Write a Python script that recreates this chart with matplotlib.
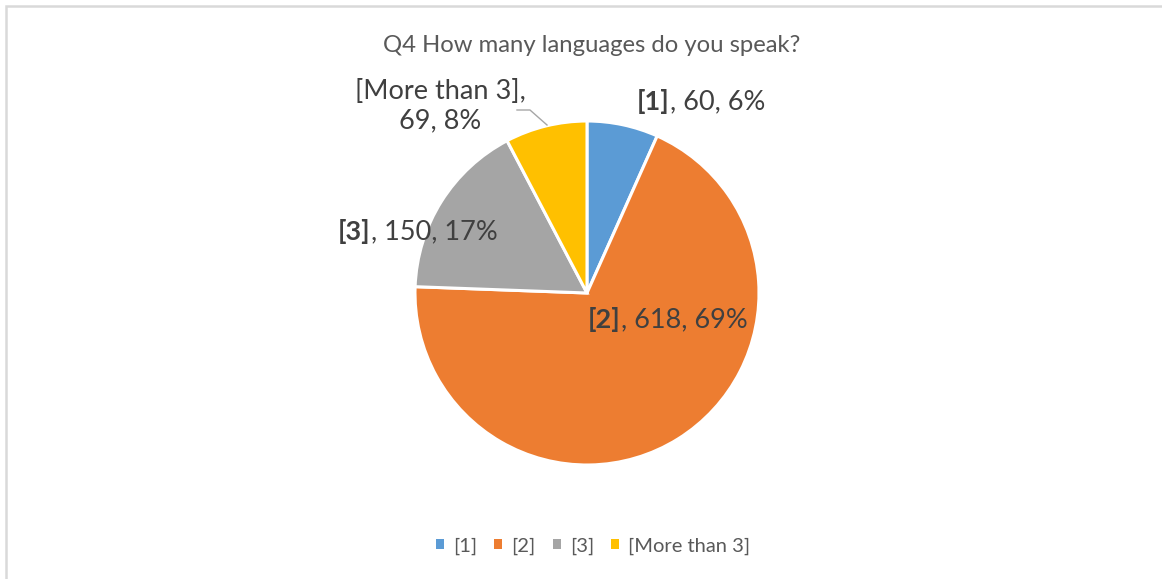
import matplotlib.pyplot as plt
from matplotlib.patches import Patch, Rectangle

plt.rcParams["font.family"] = ["Lato", "DejaVu Sans"]

categories = ["[1]", "[2]", "[3]", "[More than 3]"]
counts = [60, 618, 150, 69]
percent_labels = ["6%", "69%", "17%", "8%"]
colors = ["#5B9BD5", "#ED7D31", "#A5A5A5", "#FFC000"]

W, H = 1162, 579
fig = plt.figure(figsize=(W / 100, H / 100), dpi=100)
ax = fig.add_axes([0, 0, 1, 1])

# chart frame, only the top and left edges fall inside the image
fig.patches.append(Rectangle((5.5 / W, -0.1), 1.2, (H - 6.5) / H + 0.1,
                             transform=fig.transFigure, fill=False,
                             edgecolor="#D9D9D9", linewidth=1.8))

cx, cy, r = 587, H - 293, 172
wedges, _ = ax.pie(counts, colors=colors, startangle=90, counterclock=False,
                   center=(cx, cy), radius=r,
                   wedgeprops=dict(edgecolor="white", linewidth=2.2))
ax.set_xlim(0, W)
ax.set_ylim(0, H)
ax.set_aspect("equal")
ax.axis("off")

label_color = "#404040"
label_size = 19.5


def data_label(x, y, name, rest):
    bold = ax.text(x, H - y, name, fontsize=label_size, fontweight="bold",
                   color=label_color, ha="left", va="baseline")
    ax.annotate(rest, xy=(1, 0), xycoords=bold, fontsize=label_size,
                color=label_color, ha="left", va="bottom")


data_label(637, 110, categories[0], f", {counts[0]}, {percent_labels[0]}")
data_label(588, 328, categories[1], f", {counts[1]}, {percent_labels[1]}")
data_label(338, 240, categories[2], f", {counts[2]}, {percent_labels[2]}")

ax.text(440, H - 106, f"{categories[3]},\n{counts[3]}, {percent_labels[3]}",
        fontsize=label_size, color=label_color, ha="center", va="center",
        linespacing=1.2)
ax.plot([517, 530, 547], [H - 110, H - 110, H - 125], color="#A6A6A6", linewidth=1)

ax.text(592, H - 45, "Q4 How many languages do you speak?", fontsize=17.2,
        color="#595959", ha="center", va="center")

handles = [Patch(facecolor=c, edgecolor="none") for c in colors]
fig.legend(handles, categories, loc="center", bbox_to_anchor=(593 / W, 1 - 546 / H),
           ncol=4, frameon=False, fontsize=14.5, labelcolor="#595959",
           handlelength=0.4, handleheight=0.4, handletextpad=0.45, columnspacing=0.85)

fig.savefig("out.png", dpi=100)
